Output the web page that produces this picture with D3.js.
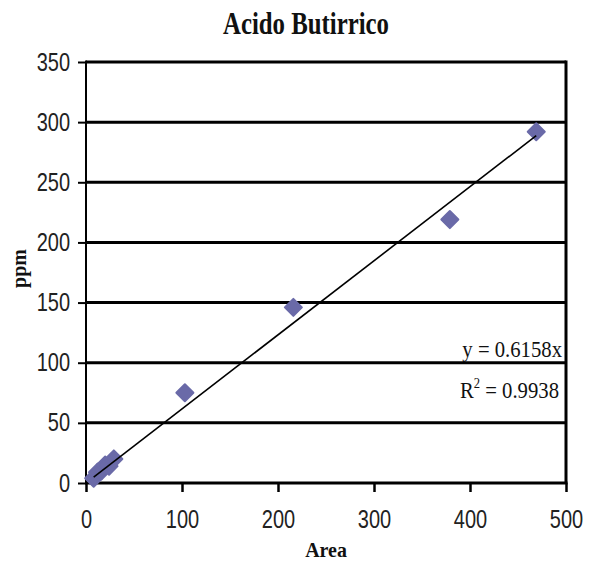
<!DOCTYPE html>
<html>
<head>
<meta charset="utf-8">
<script src="https://cdn.jsdelivr.net/npm/d3@7/dist/d3.min.js"></script>
<style>
body { margin: 0; background: #fff; }
</style>
</head>
<body>
<div id="chart-area"></div>
<script>
// data
var areaVals = [8, 12, 16, 20, 24, 29, 103, 216, 379, 469];
var ppmVals = [4, 9, 10, 15, 14, 20, 75, 146, 219, 292];
var slope = 0.6158;
var xTicks = [0, 100, 200, 300, 400, 500];
var yTicks = [0, 50, 100, 150, 200, 250, 300, 350];
var titleText = "Acido Butirrico";
var xLabel = "Area";
var yLabel = "ppm";
var eqText = "y = 0.6158x";
var r2Value = "0.9938";

var margin = { left: 86, right: 25, top: 62, bottom: 81 };
var width = 591 - margin.left - margin.right,
	height = 564 - margin.top - margin.bottom;

var svg = d3.select("#chart-area")
	.append("svg")
	.attr("width", 591)
	.attr("height", 564)
	.style("display", "block");

var g = svg.append("g")
	.attr("transform", "translate(" + margin.left + "," + margin.top + ")");

var x = d3.scaleLinear().domain([0, 500]).range([0, width]);
var y = d3.scaleLinear().domain([0, 350]).range([height, 0]);

var squeeze = 0.8;  // the original text looks narrow

// Title
svg.append("text")
	.attr("transform", "translate(306,34) scale(0.8,1)")
	.attr("text-anchor", "middle")
	.attr("font-family", "'Liberation Serif', 'Times New Roman', serif")
	.attr("font-weight", "bold")
	.attr("font-size", "31px")
	.attr("fill", "#111")
	.text(titleText);

// Grid lines (350 is the top border)
g.selectAll(".grid")
	.data(yTicks.filter(function (d) { return d > 0; }))
	.enter()
	.append("line")
	.attr("class", "grid")
	.attr("x1", 0)
	.attr("x2", width)
	.attr("y1", function (d) { return y(d); })
	.attr("y2", function (d) { return y(d); })
	.attr("stroke", "#000")
	.attr("stroke-width", 3);

// Y Axis
var yAxis = d3.axisLeft(y)
	.tickValues(yTicks)
	.tickSize(8)
	.tickPadding(8);

var yg = g.append("g").call(yAxis);
yg.select(".domain").remove();
yg.selectAll(".tick line").attr("stroke", "#000").attr("stroke-width", 2);
yg.selectAll(".tick text")
	.attr("x", -16 / squeeze)
	.attr("transform", "scale(" + squeeze + ",1)")
	.attr("font-family", "'Liberation Sans', Arial, sans-serif")
	.attr("font-size", "25px")
	.attr("fill", "#222");

// left axis line
g.append("line")
	.attr("x1", 0).attr("x2", 0)
	.attr("y1", y(350) - 1.5).attr("y2", y(0))
	.attr("stroke", "#000")
	.attr("stroke-width", 2);

// right border
g.append("line")
	.attr("x1", width).attr("x2", width)
	.attr("y1", y(350) - 1.5).attr("y2", y(0))
	.attr("stroke", "#000")
	.attr("stroke-width", 3);

// X Axis
var xAxis = d3.axisBottom(x)
	.tickValues(xTicks)
	.tickSize(9)
	.tickPadding(18);

var xg = g.append("g")
	.attr("transform", "translate(0," + height + ")")
	.call(xAxis);
xg.select(".domain").remove();
xg.selectAll(".tick line").attr("stroke", "#000").attr("stroke-width", 2.5);
xg.selectAll(".tick text")
	.attr("transform", "scale(" + squeeze + ",1)")
	.attr("font-family", "'Liberation Sans', Arial, sans-serif")
	.attr("font-size", "25px")
	.attr("fill", "#222");

// bottom axis line
g.append("line")
	.attr("x1", -1).attr("x2", width + 1.5)
	.attr("y1", height).attr("y2", height)
	.attr("stroke", "#000")
	.attr("stroke-width", 3);

// Axis labels
g.append("text")
	.attr("transform", "translate(" + (width / 2) + "," + (height + 74) + ") scale(0.95,1)")
	.attr("text-anchor", "middle")
	.attr("font-family", "'Liberation Serif', 'Times New Roman', serif")
	.attr("font-weight", "bold")
	.attr("font-size", "21px")
	.attr("fill", "#111")
	.text(xLabel);

g.append("text")
	.attr("transform", "translate(-60," + (height / 2 - 4) + ") rotate(-90) scale(0.95,1)")
	.attr("text-anchor", "middle")
	.attr("font-family", "'Liberation Serif', 'Times New Roman', serif")
	.attr("font-weight", "bold")
	.attr("font-size", "21px")
	.attr("fill", "#111")
	.text(yLabel);

// Points
var points = areaVals.map(function (a, i) { return { area: a, ppm: ppmVals[i] }; });

g.append("g")
	.attr("class", "plots")
	.selectAll("path")
	.data(points)
	.enter()
	.append("path")
	.attr("d", d3.symbol().type(d3.symbolDiamond2).size(185))
	.attr("transform", function (d) {
		return "translate(" + x(d.area) + "," + y(d.ppm) + ")";
	})
	.attr("fill", "#6a6aa8")
	.attr("stroke", "#6a6aa8")
	.attr("stroke-width", 2)
	.attr("stroke-linejoin", "round");

// Trend line y = slope * x
var xExt = d3.extent(areaVals);
var trend = d3.line()
	.x(function (d) { return x(d); })
	.y(function (d) { return y(slope * d); });

g.append("path")
	.datum(xExt)
	.attr("d", trend)
	.attr("fill", "none")
	.attr("stroke", "#000")
	.attr("stroke-width", 1.6);

// Equation
var eq = g.append("g")
	.attr("font-family", "'Liberation Serif', 'Times New Roman', serif")
	.attr("font-size", "23px")
	.attr("fill", "#111");

eq.append("text")
	.attr("transform", "translate(" + (width - 4) + ",295) scale(0.9,1)")
	.attr("text-anchor", "end")
	.text(eqText);

var r2 = eq.append("text")
	.attr("transform", "translate(" + (width - 7) + ",336) scale(0.9,1)")
	.attr("text-anchor", "end");
r2.append("tspan").text("R");
r2.append("tspan").attr("font-size", "14px").attr("dy", -10).text("2");
r2.append("tspan").attr("dy", 10).text(" = " + r2Value);
</script>
</body>
</html>
